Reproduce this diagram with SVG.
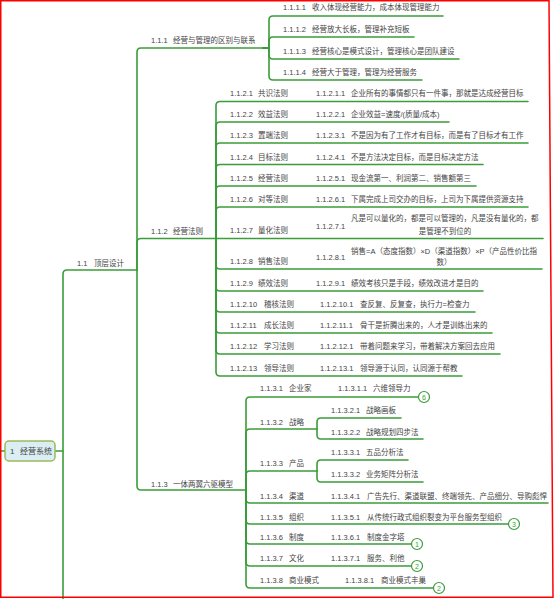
<svg xmlns="http://www.w3.org/2000/svg" width="556" height="599" viewBox="0 0 556 599">
<style>
.t{font-family:"Liberation Sans","Noto Sans CJK SC",sans-serif;font-size:7.5px;fill:#444}
.c{fill:none;stroke:#3a9d3a;stroke-width:1.6;stroke-linecap:round}
.m{fill:#fff;stroke:#3a9d3a;stroke-width:1.2}
.mt{font-family:"Liberation Sans",sans-serif;font-size:7px;fill:#3a9d3a;text-anchor:middle}
</style>
<rect width="556" height="599" fill="#fff"/>
<g id="connectors">
<path class="c" d="M0,451 H5 M55,451 H63"/>
<path class="c" d="M63,599 V274 Q63,270 67,270 H137"/>
<path class="c" d="M137,270 V52 Q137,48 141,48 H263"/>
<path class="c" d="M137,270 V242.5 Q137,238.5 141,238.5 H216"/>
<path class="c" d="M137,270 V486 Q137,490 141,490 H246"/>
<path class="c" d="M263,48 H269 V20 Q269,16 273,16 H443"/>
<path class="c" d="M263,48 H269 V41 Q269,37 273,37 H414"/>
<path class="c" d="M263,48 H269 V55 Q269,59 273,59 H459"/>
<path class="c" d="M263,48 H269 V76 Q269,80 273,80 H422"/>
<path class="c" d="M216,238.5 V105.5 Q216,101.5 220,101.5 H528"/>
<path class="c" d="M216,238.5 V126 Q216,122 220,122 H449"/>
<path class="c" d="M216,238.5 V147 Q216,143 220,143 H528"/>
<path class="c" d="M216,238.5 V168.5 Q216,164.5 220,164.5 H483"/>
<path class="c" d="M216,238.5 V190 Q216,186 220,186 H476"/>
<path class="c" d="M216,238.5 V211 Q216,207 220,207 H528"/>
<path class="c" d="M216,238.5 H543"/>
<path class="c" d="M216,238.5 V265 Q216,269 220,269 H542"/>
<path class="c" d="M216,238.5 V287 Q216,291 220,291 H483"/>
<path class="c" d="M216,238.5 V308 Q216,312 220,312 H475"/>
<path class="c" d="M216,238.5 V329 Q216,333 220,333 H492"/>
<path class="c" d="M216,238.5 V350 Q216,354 220,354 H500"/>
<path class="c" d="M216,238.5 V372 Q216,376 220,376 H462"/>
<path class="c" d="M246,490 V401 Q246,397 250,397 H418.5"/>
<path class="c" d="M246,490 V433 Q246,429 250,429 H317"/>
<path class="c" d="M246,490 V475 Q246,471 250,471 H317"/>
<path class="c" d="M246,490 V499 Q246,503 250,503 H548"/>
<path class="c" d="M246,490 V520 Q246,524 250,524 H508.5"/>
<path class="c" d="M246,490 V540 Q246,544 250,544 H411.5"/>
<path class="c" d="M246,490 V562 Q246,566 250,566 H411.5"/>
<path class="c" d="M246,490 V584 Q246,588 250,588 H433.5"/>
<path class="c" d="M317,429 V422 Q317,418 321,418 H401"/>
<path class="c" d="M317,429 V435 Q317,439 321,439 H423"/>
<path class="c" d="M317,471 V464 Q317,460 321,460 H408"/>
<path class="c" d="M317,471 V478 Q317,482 321,482 H423"/>
</g>
<g id="n1"><rect x="5" y="441" width="50" height="20" rx="4" fill="#dbeef3" stroke="#9bbb59" stroke-width="1.5"/><text class="t" x="10" y="454" style="font-size:8px">1</text><text class="t" x="20" y="454" style="font-size:8px">经营系统</text></g>
<g id="n1_1"><text class="t" x="77" y="266">1.1</text><text class="t" x="94" y="266">顶层设计</text></g>
<g id="n1_1_1"><text class="t" x="151" y="43">1.1.1</text><text class="t" x="173" y="43">经营与管理的区别与联系</text></g>
<g id="n1_1_1_1"><text class="t" x="283" y="10">1.1.1.1</text><text class="t" x="312" y="10">收入体现经营能力，成本体现管理能力</text></g>
<g id="n1_1_1_2"><text class="t" x="283" y="32">1.1.1.2</text><text class="t" x="312" y="32">经营放大长板，管理补充短板</text></g>
<g id="n1_1_1_3"><text class="t" x="283" y="54">1.1.1.3</text><text class="t" x="312" y="54">经营核心是模式设计，管理核心是团队建设</text></g>
<g id="n1_1_1_4"><text class="t" x="283" y="75">1.1.1.4</text><text class="t" x="312" y="75">经营大于管理，管理为经营服务</text></g>
<g id="n1_1_2"><text class="t" x="151" y="234">1.1.2</text><text class="t" x="173" y="234">经营法则</text></g>
<g id="n1_1_2_1"><text class="t" x="230" y="96">1.1.2.1</text><text class="t" x="258" y="96">共识法则</text></g>
<g id="n1_1_2_1_1"><text class="t" x="316" y="96">1.1.2.1.1</text><text class="t" x="351" y="96">企业所有的事情都只有一件事，那就是达成经营目标</text></g>
<g id="n1_1_2_2"><text class="t" x="230" y="117">1.1.2.2</text><text class="t" x="258" y="117">效益法则</text></g>
<g id="n1_1_2_2_1"><text class="t" x="316" y="117">1.1.2.2.1</text><text class="t" x="351" y="117">企业效益=速度/(质量/成本)</text></g>
<g id="n1_1_2_3"><text class="t" x="230" y="138">1.1.2.3</text><text class="t" x="258" y="138">置端法则</text></g>
<g id="n1_1_2_3_1"><text class="t" x="316" y="138">1.1.2.3.1</text><text class="t" x="351" y="138">不是因为有了工作才有目标，而是有了目标才有工作</text></g>
<g id="n1_1_2_4"><text class="t" x="230" y="160">1.1.2.4</text><text class="t" x="258" y="160">目标法则</text></g>
<g id="n1_1_2_4_1"><text class="t" x="316" y="160">1.1.2.4.1</text><text class="t" x="351" y="160">不是方法决定目标，而是目标决定方法</text></g>
<g id="n1_1_2_5"><text class="t" x="230" y="181">1.1.2.5</text><text class="t" x="258" y="181">经营法则</text></g>
<g id="n1_1_2_5_1"><text class="t" x="316" y="181">1.1.2.5.1</text><text class="t" x="351" y="181">现金流第一、利润第二、销售额第三</text></g>
<g id="n1_1_2_6"><text class="t" x="230" y="202">1.1.2.6</text><text class="t" x="258" y="202">对等法则</text></g>
<g id="n1_1_2_6_1"><text class="t" x="316" y="202">1.1.2.6.1</text><text class="t" x="351" y="202">下属完成上司交办的目标，上司为下属提供资源支持</text></g>
<g id="n1_1_2_7"><text class="t" x="230" y="233">1.1.2.7</text><text class="t" x="258" y="233">量化法则</text></g>
<g id="n1_1_2_7_1"><text class="t" x="316" y="229">1.1.2.7.1</text><text class="t" x="351" y="221">凡是可以量化的，都是可以管理的，凡是没有量化的，都</text><text class="t" x="445" y="234" text-anchor="middle">是管理不到位的</text></g>
<g id="n1_1_2_8"><text class="t" x="230" y="264">1.1.2.8</text><text class="t" x="258" y="264">销售法则</text></g>
<g id="n1_1_2_8_1"><text class="t" x="316" y="260">1.1.2.8.1</text><text class="t" x="351" y="254">销售=A（态度指数）×D（渠道指数）×P（产品性价比指</text><text class="t" x="444" y="265" text-anchor="middle">数）</text></g>
<g id="n1_1_2_9"><text class="t" x="230" y="286">1.1.2.9</text><text class="t" x="258" y="286">绩效法则</text></g>
<g id="n1_1_2_9_1"><text class="t" x="316" y="286">1.1.2.9.1</text><text class="t" x="351" y="286">绩效考核只是手段，绩效改进才是目的</text></g>
<g id="n1_1_2_10"><text class="t" x="230" y="307">1.1.2.10</text><text class="t" x="264" y="307">稽核法则</text></g>
<g id="n1_1_2_10_1"><text class="t" x="320" y="307">1.1.2.10.1</text><text class="t" x="360" y="307">查反复、反复查，执行力=检查力</text></g>
<g id="n1_1_2_11"><text class="t" x="230" y="328">1.1.2.11</text><text class="t" x="264" y="328">成长法则</text></g>
<g id="n1_1_2_11_1"><text class="t" x="320" y="328">1.1.2.11.1</text><text class="t" x="360" y="328">骨干是折腾出来的，人才是训练出来的</text></g>
<g id="n1_1_2_12"><text class="t" x="230" y="349">1.1.2.12</text><text class="t" x="264" y="349">学习法则</text></g>
<g id="n1_1_2_12_1"><text class="t" x="320" y="349">1.1.2.12.1</text><text class="t" x="360" y="349">带着问题来学习，带着解决方案回去应用</text></g>
<g id="n1_1_2_13"><text class="t" x="230" y="371">1.1.2.13</text><text class="t" x="264" y="371">领导法则</text></g>
<g id="n1_1_2_13_1"><text class="t" x="320" y="371">1.1.2.13.1</text><text class="t" x="360" y="371">领导源于认同，认同源于帮教</text></g>
<g id="n1_1_3"><text class="t" x="151" y="487">1.1.3</text><text class="t" x="173" y="487">一体两翼六驱模型</text></g>
<g id="n1_1_3_1"><text class="t" x="260" y="391">1.1.3.1</text><text class="t" x="289" y="391">企业家</text></g>
<g id="n1_1_3_1_1"><text class="t" x="338" y="391">1.1.3.1.1</text><text class="t" x="373" y="391">六维领导力</text><circle class="m" cx="424" cy="397" r="5.5"/><text class="mt" x="424" y="399.5">6</text></g>
<g id="n1_1_3_2"><text class="t" x="260" y="425">1.1.3.2</text><text class="t" x="289" y="425">战略</text></g>
<g id="n1_1_3_2_1"><text class="t" x="331" y="413">1.1.3.2.1</text><text class="t" x="366" y="413">战略画板</text></g>
<g id="n1_1_3_2_2"><text class="t" x="331" y="435">1.1.3.2.2</text><text class="t" x="366" y="435">战略规划四步法</text></g>
<g id="n1_1_3_3"><text class="t" x="260" y="466">1.1.3.3</text><text class="t" x="289" y="466">产品</text></g>
<g id="n1_1_3_3_1"><text class="t" x="331" y="455">1.1.3.3.1</text><text class="t" x="366" y="455">五品分析法</text></g>
<g id="n1_1_3_3_2"><text class="t" x="331" y="477">1.1.3.3.2</text><text class="t" x="366" y="477">业务矩阵分析法</text></g>
<g id="n1_1_3_4"><text class="t" x="260" y="499">1.1.3.4</text><text class="t" x="289" y="499">渠道</text></g>
<g id="n1_1_3_4_1"><text class="t" x="331" y="499">1.1.3.4.1</text><text class="t" x="367" y="499">广告先行、渠道联盟、终端领先、产品细分、导购彪悍</text></g>
<g id="n1_1_3_5"><text class="t" x="260" y="520">1.1.3.5</text><text class="t" x="289" y="520">组织</text></g>
<g id="n1_1_3_5_1"><text class="t" x="331" y="520">1.1.3.5.1</text><text class="t" x="367" y="520">从传统行政式组织裂变为平台服务型组织</text><circle class="m" cx="514" cy="524" r="5.5"/><text class="mt" x="514" y="526.5">3</text></g>
<g id="n1_1_3_6"><text class="t" x="260" y="540">1.1.3.6</text><text class="t" x="289" y="540">制度</text></g>
<g id="n1_1_3_6_1"><text class="t" x="331" y="540">1.1.3.6.1</text><text class="t" x="367" y="540">制度金字塔</text><circle class="m" cx="417" cy="544" r="5.5"/><text class="mt" x="417" y="546.5">1</text></g>
<g id="n1_1_3_7"><text class="t" x="260" y="561">1.1.3.7</text><text class="t" x="289" y="561">文化</text></g>
<g id="n1_1_3_7_1"><text class="t" x="331" y="561">1.1.3.7.1</text><text class="t" x="367" y="561">服务、利他</text><circle class="m" cx="417" cy="566" r="5.5"/><text class="mt" x="417" y="568.5">2</text></g>
<g id="n1_1_3_8"><text class="t" x="260" y="583">1.1.3.8</text><text class="t" x="289" y="583">商业模式</text></g>
<g id="n1_1_3_8_1"><text class="t" x="345" y="583">1.1.3.8.1</text><text class="t" x="381" y="583">商业模式丰巢</text><circle class="m" cx="439" cy="588" r="5.5"/><text class="mt" x="439" y="590.5">2</text></g>
<path d="M0.75,0.75 H549 L553,597.25 H0.75 Z" fill="none" stroke="#f00" stroke-width="1.5"/>
</svg>
